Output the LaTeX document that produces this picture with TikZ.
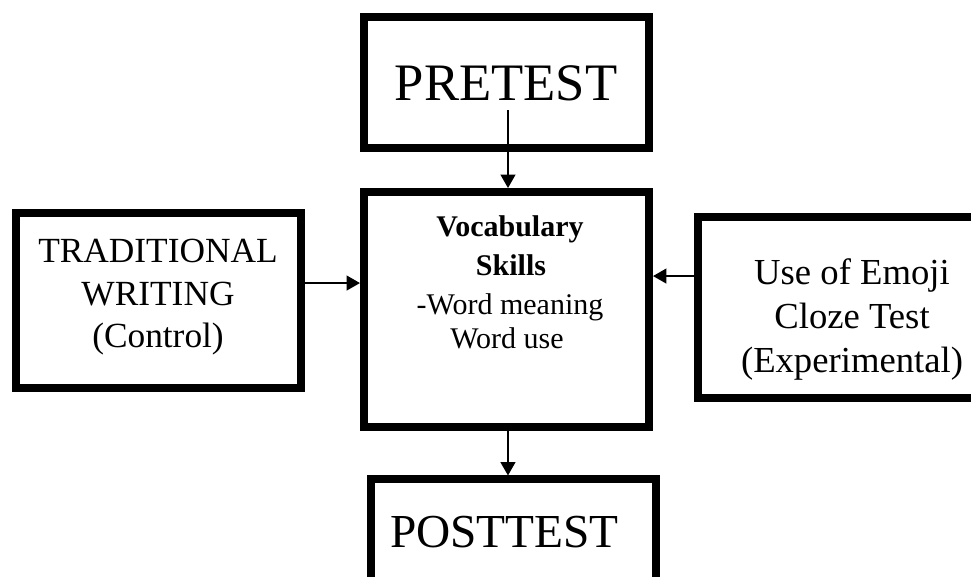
\documentclass[tikz,border=0pt]{standalone}
\usepackage{fontspec}
\setmainfont{Liberation Serif}
\usetikzlibrary{arrows.meta}
\begin{document}
\begin{tikzpicture}[x=0.75pt,y=-0.75pt,
  box/.style={draw=black,line width=6pt,inner sep=0pt,minimum width=213.75pt},
  lbl/.style={anchor=base,inner sep=0pt},
  arr/.style={-{Triangle[width=11pt,length=10pt]},line width=1.5pt},
  big/.style={font=\fontsize{39.5}{40}\selectfont},
  mid/.style={font=\fontsize{26.5}{28}\selectfont},
  midr/.style={font=\fontsize{27.5}{29}\selectfont},
  sml/.style={font=\fontsize{22.5}{24}\selectfont}]
\useasboundingbox (0,0) rectangle (971,576);
\clip (0,0) rectangle (971,576);

% frames
\node[box,minimum height=98.25pt]  (pre)    at (506.5,82.5)  {};
\node[box,minimum height=176.25pt] (center) at (506.5,309.5) {};
\node[box,minimum height=131.25pt] (left)   at (158.5,300.5) {};
\node[box,minimum height=135.75pt] (right)  at (840,307.5)   {};
\node[box,minimum height=120.4pt]  (post)   at (513.25,559.75) {};

% labels
\node[lbl,big] (pretxt) at (506,100) {PRETEST};
\node[lbl,font=\fontsize{35.5}{36}\selectfont] (posttxt) at (504.5,547) {POSTTEST};

\node[lbl,mid] (l1) at (158,262) {TRADITIONAL};
\node[lbl,mid] (l2) at (158,305) {WRITING};
\node[lbl,mid] (l3) at (158,347) {(Control)};

\node[lbl,sml,font=\fontsize{22.5}{24}\selectfont\bfseries] (c1) at (510,236) {Vocabulary};
\node[lbl,sml,font=\fontsize{22.5}{24}\selectfont\bfseries] (c2) at (511,275) {Skills};
\node[lbl,sml] (c3) at (510,314) {-Word meaning};
\node[lbl,sml] (c4) at (507,348) {Word use};

\node[lbl,midr] (r1) at (852,284) {Use of Emoji};
\node[lbl,midr] (r2) at (852,328) {Cloze Test};
\node[lbl,midr] (r3) at (852,372) {(Experimental)};

% connectors
\coordinate (prestart) at (508,110);
\draw[arr] (prestart) -- (prestart |- center.north);
\coordinate (la) at ([yshift=13.1pt]left.east);
\draw[arr] (la) -- (la -| center.west);
\coordinate (ra) at ([yshift=23.6pt]right.west);
\draw[arr] (ra) -- (ra -| center.east);
\coordinate (cs) at ([xshift=1.1pt]center.south);
\draw[arr] (cs) -- (cs |- post.north);
\end{tikzpicture}
\end{document}
